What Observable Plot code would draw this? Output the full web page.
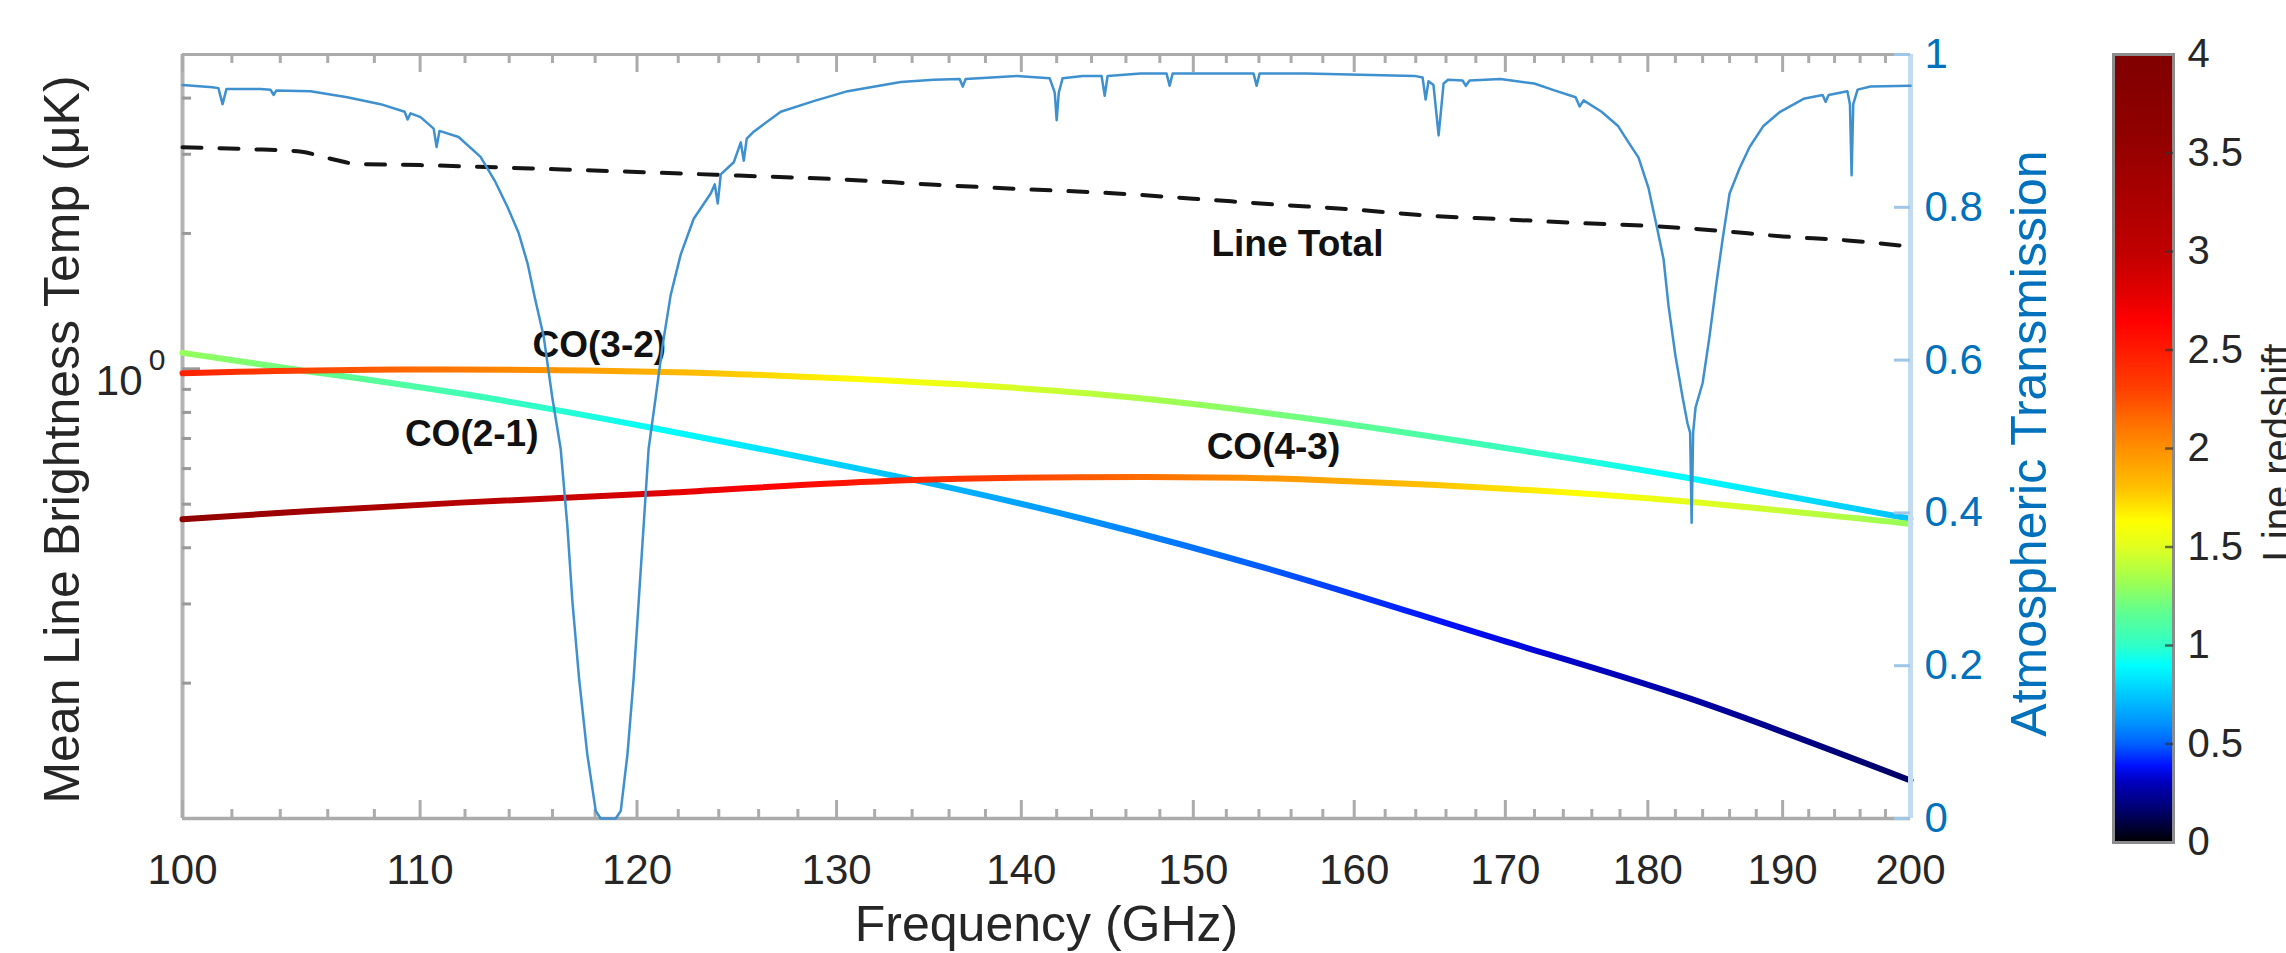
<!DOCTYPE html>
<html><head><meta charset="utf-8">
<script src="https://cdn.jsdelivr.net/npm/d3@7"></script>
<script src="https://cdn.jsdelivr.net/npm/@observablehq/plot@0.6"></script>
<style>
html,body{margin:0;padding:0;background:#fff;overflow:hidden;}
#wrap{position:relative;width:2286px;height:953px;overflow:hidden;background:#fff;}
#wrap svg{position:absolute;left:0;top:0;}
</style></head><body><div id="wrap"></div>
<script>
// ---------- data ----------
const xMajorTicks = [100,110,120,130,140,150,160,170,180,190,200];
const xMinorTicks = [102,104,106,108,112,114,116,118,122,124,126,128,132,134,136,138,142,144,146,148,152,154,156,158,162,164,166,168,172,174,176,178,182,184,186,188,192,194,196,198];
const yMinorTicks = [0.2,0.3,0.4,0.5,0.6,0.7,0.8,0.9,2,3,4];
const transTicks = [0,0.2,0.4,0.6,0.8,1];
const redshiftTicks = [0,0.5,1,1.5,2,2.5,3,3.5,4];

// rest frequencies (GHz) of CO lines
const restCO21 = 230.538, restCO32 = 345.796, restCO43 = 461.041;

const co21Freq = [100,104.85,111.80,120.89,133.06,143.88,156.59,169.67,183.04,200];
const co21Temp = [1.085,0.993,0.881,0.7365,0.578,0.460,0.342,0.2495,0.1849,0.1215];
const co32Freq = [100,109.14,121.33,132.42,143.88,156.59,169.67,183.04,200];
const co32Temp = [0.978,0.996,0.984,0.943,0.881,0.779,0.669,0.571,0.464];
const co43Freq = [100,105.27,111.80,120.80,133.65,147.21,156.59,169.67,183.04,200];
const co43Temp = [0.463,0.483,0.504,0.528,0.565,0.575,0.568,0.542,0.506,0.452];
const totalFreq = [100,102.7,104.9,105.8,106.4,107.2,110,115,120,125,130,135,140,145,150,155,160,165,170,175,180,185,190,195,200];
const totalTemp = [3.11,3.08,3.04,2.96,2.91,2.855,2.838,2.79,2.74,2.69,2.64,2.57,2.51,2.46,2.39,2.32,2.26,2.19,2.15,2.11,2.08,2.03,1.97,1.93,1.87];

const atmFreq = [100.00,101.21,101.45,101.62,101.78,103.18,103.59,103.72,103.84,105.27,106.83,108.27,109.32,109.45,109.58,110.02,110.60,110.73,110.86,111.71,112.70,113.34,113.93,114.44,114.85,115.17,115.59,115.99,116.38,116.69,116.93,117.24,117.63,118.03,118.26,118.98,119.22,119.54,119.84,120.08,120.32,120.56,120.90,121.23,121.63,122.12,122.76,123.60,123.80,123.95,124.10,124.75,125.10,125.25,125.40,125.75,127.12,128.81,130.58,133.39,135.17,136.58,136.75,136.91,139.74,141.60,141.89,142.00,142.12,142.34,143.50,144.58,144.76,144.93,146.86,148.40,148.58,148.76,150.62,153.67,153.86,154.04,156.98,163.92,164.45,164.65,164.84,165.17,165.51,165.84,166.14,167.11,167.33,167.58,169.67,171.98,173.38,174.86,175.14,175.42,176.69,177.88,178.61,179.33,180.05,180.68,181.14,181.50,182.01,182.53,182.89,183.08,183.19,183.30,183.48,184.00,184.51,185.00,185.48,186.00,186.75,187.50,188.52,189.81,191.60,193.07,193.30,193.54,195.00,195.20,195.33,195.46,195.80,196.82,200.00];
const atmTrans = [0.960,0.957,0.956,0.935,0.955,0.955,0.954,0.947,0.953,0.952,0.944,0.935,0.925,0.915,0.923,0.918,0.903,0.879,0.900,0.892,0.866,0.835,0.800,0.766,0.726,0.683,0.631,0.551,0.484,0.384,0.284,0.184,0.084,0.010,0.000,0.000,0.010,0.084,0.184,0.284,0.384,0.484,0.551,0.618,0.685,0.738,0.785,0.818,0.830,0.805,0.843,0.859,0.885,0.861,0.890,0.899,0.925,0.939,0.952,0.964,0.967,0.968,0.958,0.968,0.972,0.969,0.950,0.914,0.950,0.969,0.972,0.972,0.946,0.972,0.975,0.975,0.959,0.975,0.975,0.975,0.959,0.975,0.975,0.972,0.970,0.941,0.965,0.960,0.894,0.962,0.967,0.966,0.959,0.966,0.968,0.962,0.953,0.944,0.932,0.940,0.925,0.906,0.885,0.865,0.825,0.772,0.732,0.671,0.605,0.551,0.517,0.505,0.387,0.505,0.538,0.570,0.631,0.698,0.758,0.818,0.851,0.879,0.906,0.925,0.942,0.947,0.938,0.947,0.952,0.935,0.842,0.935,0.954,0.958,0.959];

const labelText = ["CO(2-1)","CO(3-2)","CO(4-3)","Line Total"];
const labelFreq = [112.3,118.2,154.9,156.4];
const labelTemp = [0.714,1.126,0.669,1.898];

// colormap for line redshift
const zStops  = [0,0.17,0.31,0.39,0.5,0.6,0.73,0.9,1.0,1.17,1.33,1.5,1.63,1.8,2.0,2.15,2.3,2.5,2.65,2.8,3.0,3.35,3.6,4.0];
const zColors = ["#000000","#000070","#0000c0","#0010ff","#0060ff","#0090ff","#00c0ff","#00ffff","#30ffc8","#60ff90","#a0ff50","#e0ff20","#ffff00","#ffc000","#ff9000","#ff6a00","#ff4000","#ff1a00","#ff0000","#e00000","#c00000","#a40000","#900000","#800000"];

// ---------- tables ----------
const zip = (fs, vs) => fs.map((f, i) => ({f, v: vs[i]}));
const co21 = zip(co21Freq, co21Temp), co32 = zip(co32Freq, co32Temp), co43 = zip(co43Freq, co43Temp);
const total = zip(totalFreq, totalTemp);
const atm = zip(atmFreq, atmTrans);
const labels = labelText.map((t, i) => ({t, f: labelFreq[i], v: labelTemp[i]}));

// ---------- layout ----------
const W = 2286, H = 953;
const mL = 182, mR = 376, mT = 54, mB = 135;
const innerW = W - mL - mR, innerH = H - mT - mB;
const FONT = "'Liberation Sans', Arial, Helvetica, sans-serif";
const axisGray = "#ababab";
const blue = "#0072BD";

const cmap = Plot.scale({color: {type: "linear", domain: zStops, range: zColors, interpolate: "rgb"}});

const p1 = Plot.plot({
  width: W, height: H, marginLeft: mL, marginRight: mR, marginTop: mT, marginBottom: mB,
  style: {fontFamily: FONT, background: "transparent", overflow: "visible", color: "#262626"},
  x: {type: "log", domain: [100, 200]},
  y: {type: "log", domain: [0.1, 5], axis: null},
  marks: [
    Plot.ruleY([5], {stroke: axisGray, strokeWidth: 3}),
    Plot.ruleY([0.1], {stroke: axisGray, strokeWidth: 3.5}),
    Plot.ruleX([100], {stroke: "#b3b3b3", strokeWidth: 4}),
    Plot.tickX(xMinorTicks, {x: d => d, stroke: axisGray, strokeWidth: 3, insetTop: innerH - 9}),
    Plot.tickX(xMinorTicks, {x: d => d, stroke: axisGray, strokeWidth: 3, insetBottom: innerH - 9}),
    Plot.tickX(xMajorTicks, {x: d => d, stroke: axisGray, strokeWidth: 3, insetTop: innerH - 18}),
    Plot.tickX(xMajorTicks, {x: d => d, stroke: axisGray, strokeWidth: 3, insetBottom: innerH - 18}),
    Plot.tickY(yMinorTicks, {y: d => d, stroke: "#999", strokeWidth: 3, insetRight: innerW - 9}),
    Plot.tickY([1], {y: d => d, stroke: "#999", strokeWidth: 3, insetRight: innerW - 18}),
    Plot.line(co21, {x: "f", y: "v", stroke: "url(#gCO21)", strokeWidth: 6, curve: "natural"}),
    Plot.line(co32, {x: "f", y: "v", stroke: "url(#gCO32)", strokeWidth: 6, curve: "natural"}),
    Plot.line(co43, {x: "f", y: "v", stroke: "url(#gCO43)", strokeWidth: 6, curve: "natural"}),
    Plot.line(total, {x: "f", y: "v", stroke: "#151515", strokeWidth: 4, strokeDasharray: "19,18", curve: "monotone-x"}),
    Plot.text(labels, {x: "f", y: "v", text: "t", fontSize: 37, fontWeight: "bold", fill: "#111"}),
    Plot.axisX(xMajorTicks, {anchor: "bottom", tickSize: 0, tickPadding: 36, fontSize: 42, label: null, tickFormat: d => String(d), color: "#262626"}),
    Plot.text([1], {x: () => 100, y: d => d, text: () => "10", textAnchor: "end", dx: -40, dy: 13, fontSize: 42, fill: "#262626"}),
    Plot.text([1], {x: () => 100, y: d => d, text: () => "0", textAnchor: "end", dx: -17, dy: -8, fontSize: 30, fill: "#262626"}),
    Plot.text(["Frequency (GHz)"], {frameAnchor: "bottom", text: d => d, textAnchor: "middle", lineAnchor: "middle", dy: 106, fontSize: 50, fill: "#262626"}),
    Plot.text(["Mean Line Brightness Temp (\u03BCK)"], {frameAnchor: "left", text: d => d, textAnchor: "middle", lineAnchor: "middle", dx: -120, dy: 3, rotate: -90, fontSize: 50, fill: "#262626"})
  ]
});

const p2 = Plot.plot({
  width: W, height: H, marginLeft: mL, marginRight: mR, marginTop: mT, marginBottom: mB,
  style: {fontFamily: FONT, background: "transparent", overflow: "visible"},
  x: {type: "log", domain: [100, 200], axis: null},
  y: {domain: [0, 1]},
  marks: [
    Plot.ruleX([200], {stroke: "#c3dbef", strokeWidth: 5}),
    Plot.tickY(transTicks, {y: d => d, stroke: "#9fc6e6", strokeWidth: 3, insetLeft: innerW - 16}),
    Plot.line(atm, {x: "f", y: "v", stroke: "#3f90cf", strokeWidth: 2.5}),
    Plot.axisY(transTicks, {anchor: "right", tickSize: 0, tickPadding: 14, fontSize: 42, label: null, color: blue,
      tickFormat: d => (d === 0 || d === 1) ? String(d) : d.toFixed(1)}),
    Plot.text(["Atmospheric Transmission"], {frameAnchor: "right", text: d => d, textAnchor: "middle", lineAnchor: "middle", dx: 119, dy: 7, rotate: -90, fontSize: 50, fill: blue})
  ]
});

const cbL = 2113, cbR = 2173, cbT = 54, cbB = 842;
const p3 = Plot.plot({
  width: W, height: H, marginLeft: cbL, marginRight: W - cbR, marginTop: cbT, marginBottom: H - cbB,
  style: {fontFamily: FONT, background: "transparent", overflow: "visible"},
  x: {domain: [0, 1], axis: null},
  y: {domain: [0, 4]},
  marks: [
    Plot.frame({fill: "url(#gCbar)", stroke: "#8c8c8c", strokeWidth: 3}),
    Plot.tickY(redshiftTicks.filter(d => d > 0 && d < 4), {y: d => d, stroke: "#333", strokeOpacity: 0.7, strokeWidth: 2.5, insetLeft: (cbR - cbL) - 8}),
    Plot.axisY(redshiftTicks, {anchor: "right", tickSize: 0, tickPadding: 14, fontSize: 40, label: null, color: "#262626", tickFormat: d => String(d)}),
    Plot.text(["Line redshift"], {frameAnchor: "right", text: d => d, textAnchor: "middle", lineAnchor: "middle", dx: 105, dy: 4, rotate: -90, fontSize: 40, fill: "#262626"})
  ]
});

// ---------- gradients ----------
const NS = "http://www.w3.org/2000/svg";
function addDefs(svg, grads) {
  const defs = document.createElementNS(NS, "defs");
  for (const g of grads) {
    const lg = document.createElementNS(NS, "linearGradient");
    lg.setAttribute("id", g.id);
    for (const [k, v] of Object.entries(g.attrs)) lg.setAttribute(k, v);
    for (const s of g.stops) {
      const st = document.createElementNS(NS, "stop");
      st.setAttribute("offset", s.offset);
      st.setAttribute("stop-color", s.color);
      lg.appendChild(st);
    }
    defs.appendChild(lg);
  }
  svg.insertBefore(defs, svg.firstChild);
}
const xs = p1.scale("x");
const gx1 = xs.apply(100), gx2 = xs.apply(200);
function lineStops(rest) {
  const stops = [{offset: 0, color: cmap.apply(rest / 100 - 1)}, {offset: 1, color: cmap.apply(rest / 200 - 1)}];
  zStops.forEach((z, i) => {
    const f = rest / (1 + z);
    if (f > 100 && f < 200) stops.push({offset: (xs.apply(f) - gx1) / (gx2 - gx1), color: zColors[i]});
  });
  return stops.sort((a, b) => a.offset - b.offset);
}
const lineAttrs = {gradientUnits: "userSpaceOnUse", x1: gx1, x2: gx2, y1: 0, y2: 0};
addDefs(p1, [
  {id: "gCO21", attrs: lineAttrs, stops: lineStops(restCO21)},
  {id: "gCO32", attrs: lineAttrs, stops: lineStops(restCO32)},
  {id: "gCO43", attrs: lineAttrs, stops: lineStops(restCO43)}
]);
addDefs(p3, [{id: "gCbar", attrs: {x1: 0, y1: 1, x2: 0, y2: 0}, stops: zStops.map((z, i) => ({offset: z / 4, color: zColors[i]}))}]);

const wrap = document.getElementById("wrap");
wrap.appendChild(p1);
wrap.appendChild(p2);
wrap.appendChild(p3);
</script></body></html>
